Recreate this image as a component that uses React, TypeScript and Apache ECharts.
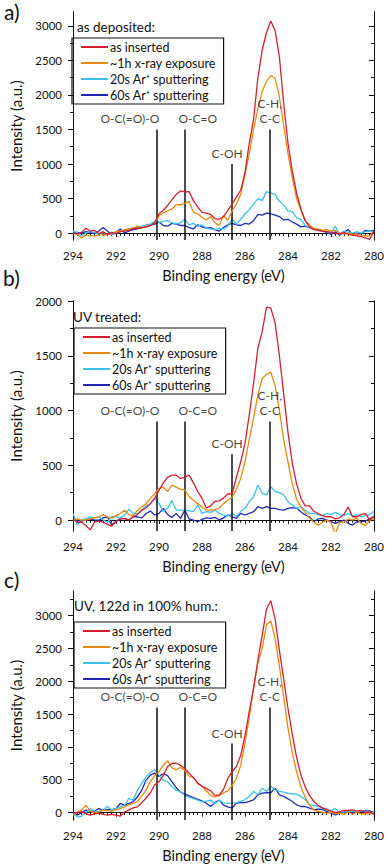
import React, { useEffect, useRef } from "react";
import * as echarts from "echarts";

const ENERGY = [
  294.0, 293.8, 293.6, 293.4, 293.2, 293.0, 292.8, 292.6, 292.4, 292.2,
  292.0, 291.8, 291.6, 291.4, 291.2, 291.0, 290.8, 290.6, 290.4, 290.2,
  290.0, 289.8, 289.6, 289.4, 289.2, 289.0, 288.8, 288.6, 288.4, 288.2,
  288.0, 287.8, 287.6, 287.4, 287.2, 287.0, 286.8, 286.6, 286.4, 286.2,
  286.0, 285.8, 285.6, 285.4, 285.2, 285.0, 284.8, 284.6, 284.4, 284.2,
  284.0, 283.8, 283.6, 283.4, 283.2, 283.0, 282.8, 282.6, 282.4, 282.2,
  282.0, 281.8, 281.6, 281.4, 281.2, 281.0, 280.8, 280.6, 280.4, 280.2,
  280.0,
];

const SERIES_NAMES = ["as inserted", "~1h x-ray exposure", "20s Ar⁺ sputtering", "60s Ar⁺ sputtering"];
const PANEL_TITLES = ["as deposited:", "UV treated:", "UV, 122d in 100% hum.:"];
const PANEL_LETTERS = ["a)", "b)", "c)"];

const A_RED = [
  0, -10, 10, 70, 30, 40, -10, 20, -20, 10,
  -10, 20, 30, 40, 60, 70, 80, 90, 110, 150,
  280, 330, 400, 480, 560, 610, 595, 600, 470, 380,
  300, 290, 270, 210, 200, 240, 330, 420, 520, 620,
  880, 1300, 1650, 2250, 2650, 2900, 3070, 2930, 2550, 1880,
  1300, 900, 580, 350, 180, 90, 50, 40, 30, 20,
  10, 0, -10, 10, -20, -30, -40, -50, -70, -90,
  30,
];
const A_ORANGE = [
  0, -20, -70, -30, -40, -40, -30, -20, -30, 0,
  20, 30, 50, 60, 70, 100, 70, 100, 110, 150,
  250, 290, 320, 350, 410, 410, 430, 460, 300, 280,
  230, 190, 240, 150, 110, 250, 190, 320, 420, 560,
  850, 1150, 1500, 1800, 2050, 2200, 2280, 2240, 1970, 1560,
  1150, 800, 500, 330, 180, 120, 60, 60, 40, 50,
  30, 40, 0, -10, 0, -20, -10, -30, -40, -40,
  30,
];
const A_CYAN = [
  30, 10, -40, 0, 20, 10, -20, 10, -10, -20,
  0, 20, 40, 60, 70, 80, 100, 120, 130, 170,
  150, 170, 180, 150, 130, 150, 200, 120, 140, 100,
  120, 70, 60, 50, 70, 60, 100, 200, 130, 200,
  280, 340, 420, 500, 470, 600, 580, 560, 460, 410,
  320, 310, 220, 200, 110, 80, 60, 40, 30, 20,
  0, 100, -20, 30, 10, 0, 20, 0, 20, 30,
  20,
];
const A_BLUE = [
  0, 10, 0, 20, 10, -10, 30, 80, 30, -20,
  10, 60, 0, 30, 50, 60, 80, 90, 110, 130,
  160, 110, 100, 140, 130, 110, 110, 80, 60, 120,
  90, 70, 80, 50, 30, 80, 120, 140, 120, 110,
  140, 130, 180, 270, 260, 290, 280, 260, 240, 190,
  200, 160, 130, 90, 100, 80, 60, 50, 30, 10,
  -20, 20, -30, 10, 50, -20, 0, -10, 40, 30,
  40,
];

const B_RED = [
  10, -20, -20, -50, -90, -20, -10, -20, -40, -55,
  -15, 10, 15, 0, 30, 50, 90, 110, 150, 200,
  270, 340, 390, 410, 410, 380, 390, 410, 340, 260,
  200, 110, 130, 170, 175, 200, 238, 240, 390, 530,
  700, 960, 1250, 1570, 1720, 1945, 1935, 1800, 1500, 1150,
  800, 520, 330, 200, 130, 130, 80, 60, 40, 30,
  30, 10, 20, 50, 120, 30, 30, 50, 60, 0,
  40,
];
const B_ORANGE = [
  0, 10, 0, 0, 10, 20, 30, 50, 30, 20,
  40, 60, 90, 50, 40, 90, 120, 150, 200, 240,
  290, 300, 260, 320, 300, 280, 275, 215, 180, 150,
  120, 90, 90, 95, 110, 150, 180, 210, 280, 380,
  530, 740, 930, 1145, 1290, 1330, 1350, 1230, 1000, 730,
  530, 330, 190, 120, 70, 20, -20, -46, -20, 0,
  -20, -130, -20, -20, 10, 0, 20, -30, -50, 0,
  10,
];
const B_CYAN = [
  60, -46, 0, 10, 30, 20, 30, 0, -20, 30,
  30, 20, 46, 100, 60, 60, 90, 130, 150, 198,
  152, 76, 107, 177, 91, 91, 91, 85, 76, 137,
  61, 76, 70, 91, 61, 46, 37, 61, 30, 80,
  107, 168, 213, 320, 244, 229, 305, 259, 250, 229,
  168, 137, 107, 122, 90, 61, 60, 50, 40, 60,
  50, 70, 50, 40, 60, 40, 50, 30, 40, 50,
  80,
];
const B_BLUE = [
  0, 0, -10, 0, 10, 0, 0, 20, 30, -46,
  -10, 10, 15, 0, 30, 30, 20, 60, 82, 46,
  61, 107, 50, 24, 61, 15, 91, 10, 0, -15,
  6, 20, 15, 25, 0, 20, 46, 30, 15, 61,
  46, 61, 76, 122, 107, 122, 107, 107, 95, 91,
  107, 113, 107, 76, 46, 30, -15, 10, 15, 0,
  -15, -30, -15, 0, -30, -46, -15, -15, -10, 10,
  30,
];

const C_RED = [
  -15, 0, 10, -20, -40, -20, -10, -30, -40, -30,
  -40, -56, 10, 40, 70, 86, 150, 220, 300, 420,
  470, 560, 700, 747, 750, 720, 670, 600, 530, 450,
  400, 366, 330, 264, 264, 350, 520, 620, 700, 870,
  1170, 1540, 1895, 2320, 2700, 3100, 3226, 2950, 2470, 2030,
  1580, 1190, 840, 574, 390, 260, 170, 110, 70, 40,
  20, 0, 10, 30, 30, 40, 20, 30, 0, 10,
  -30,
];
const C_ORANGE = [
  -40, 0, 35, 112, 20, -10, 10, 35, 30, 20,
  40, 61, 86, 120, 140, 163, 250, 340, 470, 560,
  620, 720, 787, 680, 650, 686, 645, 554, 533, 440,
  400, 330, 260, 239, 260, 300, 330, 410, 520, 720,
  1060, 1450, 1900, 2280, 2500, 2860, 2920, 2650, 2230, 1760,
  1285, 910, 620, 390, 230, 110, 40, 15, 0, -10,
  0, -20, -10, -30, 10, -30, 0, -20, -20, -10,
  -30,
];
const C_CYAN = [
  -15, -66, -60, 0, 61, 20, 10, 35, 90, 40,
  61, 86, 112, 213, 188, 340, 442, 544, 604, 655,
  569, 493, 467, 391, 340, 315, 264, 229, 213, 188,
  163, 173, 188, 137, 188, 147, 137, 142, 150, 168,
  193, 244, 320, 269, 371, 320, 396, 345, 320, 310,
  295, 285, 279, 244, 193, 117, 107, 91, 66, 60,
  25, 60, 5, 10, 20, 20, 10, 20, 10, 0,
  0,
];
const C_BLUE = [
  10, -40, 0, 35, 20, 20, 61, 30, 46, 40,
  61, 137, 112, 137, 163, 239, 340, 493, 569, 600,
  550, 590, 560, 470, 380, 310, 280, 255, 225, 200,
  175, 140, 90, 150, 188, 112, 86, 66, 142, 150,
  150, 168, 193, 269, 295, 300, 300, 371, 269, 244,
  208, 168, 117, 91, 91, 66, 41, 50, 45, 15,
  -10, -36, -10, 0, 10, 0, 5, 20, 25, 25,
  0,
];

const MARK_LABELS = ["O-C(=O)-O", "O-C=O", "C-OH", "C-H,\nC-C"];
const MARK_POS = [290.1, 288.8, 286.6, 284.85];
const MARK_TOP_A = [1500, 1500, 1000, 1500];
const MARK_TOP_B = [900, 900, 600, 900];
const MARK_TOP_C = [1600, 1600, 1050, 1600];

const Y_MAJOR_A = [0, 500, 1000, 1500, 2000, 2500, 3000];
const Y_MINOR_A = [250, 750, 1250, 1750, 2250, 2750];
const Y_MAJOR_B = [0, 500, 1000, 1500, 2000];
const Y_MINOR_B = [250, 750, 1250, 1750];
const Y_MAJOR_C = [0, 500, 1000, 1500, 2000, 2500, 3000];
const Y_MINOR_C = [250, 750, 1250, 1750, 2250, 2750, 3250];

// horizontal text offsets (px) of the marker annotations relative to their line
const MARK_LABEL_SHIFT = [-27, 13, -5, 0];

const COLORS = ["#d41f2e", "#e8890f", "#3cc1ee", "#1f2bb8"];
const FONT = "Lato, 'Open Sans', sans-serif";

type Panel = {
  grid: { left: number; top: number; width: number; height: number };
  yMin: number;
  yMax: number;
  major: number[];
  minor: number[];
  data: number[][];
  markTop: number[];
  title: string;
  titlePos: [number, number];
  legendPos: [number, number];
  letter: string;
  letterPos: [number, number];
};

const PANELS: Panel[] = [
  {
    grid: { left: 64, top: 12, width: 315, height: 228 },
    yMin: -100, yMax: 3200, major: Y_MAJOR_A, minor: Y_MINOR_A,
    data: [A_RED, A_ORANGE, A_CYAN, A_BLUE], markTop: MARK_TOP_A,
    title: PANEL_TITLES[0], titlePos: [77, 20], legendPos: [72, 38],
    letter: PANEL_LETTERS[0], letterPos: [4, 1],
  },
  {
    grid: { left: 62, top: 301, width: 316, height: 230 },
    yMin: -100, yMax: 2000, major: Y_MAJOR_B, minor: Y_MINOR_B,
    data: [B_RED, B_ORANGE, B_CYAN, B_BLUE], markTop: MARK_TOP_B,
    title: PANEL_TITLES[1], titlePos: [73, 310], legendPos: [74, 328],
    letter: PANEL_LETTERS[1], letterPos: [3, 267],
  },
  {
    grid: { left: 62, top: 591, width: 316, height: 229 },
    yMin: -115, yMax: 3375, major: Y_MAJOR_C, minor: Y_MINOR_C,
    data: [C_RED, C_ORANGE, C_CYAN, C_BLUE], markTop: MARK_TOP_C,
    title: PANEL_TITLES[2], titlePos: [74, 599], legendPos: [74, 622],
    letter: PANEL_LETTERS[2], letterPos: [4, 569],
  },
];

function buildOption() {
  const grid: any[] = [];
  const xAxis: any[] = [];
  const yAxis: any[] = [];
  const series: any[] = [];
  const legend: any[] = [];
  const graphic: any[] = [];
  const axisLine = { show: true, lineStyle: { color: "#111", width: 1 } };

  PANELS.forEach((p, pi) => {
    grid.push({ ...p.grid });
    const xBase = {
      type: "value", gridIndex: pi, min: 280, max: 294, interval: 2, inverse: true,
      axisLine, splitLine: { show: false },
      minorTick: { show: true, splitNumber: 10, length: 2.5, lineStyle: { color: "#111" } },
      minorSplitLine: { show: false },
    };
    xAxis.push({
      ...xBase, position: "bottom",
      axisTick: { show: true, inside: false, length: 4, lineStyle: { color: "#111" } },
      axisLabel: { show: true, margin: 9, fontSize: 11.5, color: "#111", fontFamily: FONT },
      name: "Binding energy (eV)", nameLocation: "middle", nameGap: 28,
      nameTextStyle: { fontSize: 14.5, color: "#111", fontFamily: FONT },
    });
    xAxis.push({
      ...xBase, position: "top",
      axisTick: { show: true, inside: true, length: 4, lineStyle: { color: "#111" } },
      minorTick: { show: true, splitNumber: 10, length: 2.5, lineStyle: { color: "#111" } },
      axisLabel: { show: false },
    });
    const yBase = {
      type: "value", gridIndex: pi, min: p.yMin, max: p.yMax,
      splitLine: { show: false }, axisLine,
    };
    yAxis.push({
      ...yBase, position: "left",
      axisTick: { show: true, inside: false, length: 5, customValues: p.major, lineStyle: { color: "#111" } },
      axisLabel: {
        show: true, customValues: p.major, margin: 11, fontSize: 11.5, color: "#111", fontFamily: FONT,
        formatter: (v: number) => String(v),
      },
      name: "Intensity (a.u.)", nameLocation: "middle", nameGap: 50,
      nameTextStyle: { fontSize: 15, color: "#111", fontFamily: FONT },
    });
    yAxis.push({
      ...yBase, position: "left",
      axisTick: { show: true, inside: false, length: 3, customValues: p.minor, lineStyle: { color: "#111" } },
      axisLabel: { show: false },
    });
    yAxis.push({
      ...yBase, position: "right",
      axisTick: { show: true, inside: true, length: 5, customValues: p.major, lineStyle: { color: "#111" } },
      axisLabel: { show: false },
    });
    yAxis.push({
      ...yBase, position: "right",
      axisTick: { show: true, inside: true, length: 3, customValues: p.minor, lineStyle: { color: "#111" } },
      axisLabel: { show: false },
    });

    p.data.forEach((vals, si) => {
      series.push({
        type: "line",
        name: SERIES_NAMES[si],
        xAxisIndex: pi * 2,
        yAxisIndex: pi * 4,
        data: ENERGY.map((e, i) => [e, vals[i]]),
        showSymbol: false,
        symbol: "none",
        lineStyle: { color: COLORS[si], width: 1.3 },
        itemStyle: { color: COLORS[si] },
        z: 3 + (3 - si),
      });
    });

    // vertical reference lines
    series.push({
      type: "line",
      name: "markers" + pi,
      xAxisIndex: pi * 2,
      yAxisIndex: pi * 4,
      data: [],
      z: 10,
      markLine: {
        silent: true,
        symbol: ["none", "none"],
        lineStyle: { color: "#111", width: 1.5, type: "solid" },
        label: { show: false },
        data: MARK_POS.map((x, k) => [
          { coord: [x, p.yMin] },
          { coord: [x, p.markTop[k]] },
        ]),
      },
    });

    // labels at the top of the reference lines
    series.push({
      type: "scatter",
      name: "markerLabels" + pi,
      xAxisIndex: pi * 2,
      yAxisIndex: pi * 4,
      symbolSize: 0,
      silent: true,
      z: 11,
      data: MARK_POS.map((x, k) => ({
        value: [x, p.markTop[k]],
        label: {
          show: true,
          position: "top",
          distance: 3,
          formatter: MARK_LABELS[k],
          offset: [MARK_LABEL_SHIFT[k], 0],
          color: "#111",
          fontSize: 12,
          lineHeight: 15,
          fontFamily: FONT,
        },
      })),
    });

    legend.push({
      orient: "vertical",
      left: p.legendPos[0],
      top: p.legendPos[1],
      data: SERIES_NAMES,
      icon: "rect",
      itemWidth: 27,
      itemHeight: 2,
      itemGap: 2,
      padding: [2, 8, 2, 9],
      borderColor: "#111",
      borderWidth: 1.2,
      selectedMode: false,
      textStyle: { fontSize: 12.5, lineHeight: 14, color: "#111", fontFamily: FONT, padding: [0, 0, 0, -3] },
    });

    graphic.push({
      type: "text", left: p.titlePos[0], top: p.titlePos[1],
      style: { text: p.title, fontSize: 13.5, fill: "#111", fontFamily: FONT },
    });
    graphic.push({
      type: "text", left: p.letterPos[0], top: p.letterPos[1],
      style: { text: p.letter, fontSize: 21, fill: "#111", fontFamily: FONT },
    });
  });

  return {
    animation: false,
    backgroundColor: "#fff",
    textStyle: { fontFamily: FONT },
    grid, xAxis, yAxis, series, legend, graphic,
  };
}

export default function App() {
  const ref = useRef<HTMLDivElement>(null);
  useEffect(() => {
    if (!ref.current) return;
    const chart = echarts.init(ref.current, undefined, { renderer: "svg" });
    chart.setOption(buildOption() as any);
    return () => chart.dispose();
  }, []);
  return (
    <div
      ref={ref}
      style={{ position: "absolute", left: 0, top: 0, width: 387, height: 865, background: "#fff" }}
    />
  );
}
